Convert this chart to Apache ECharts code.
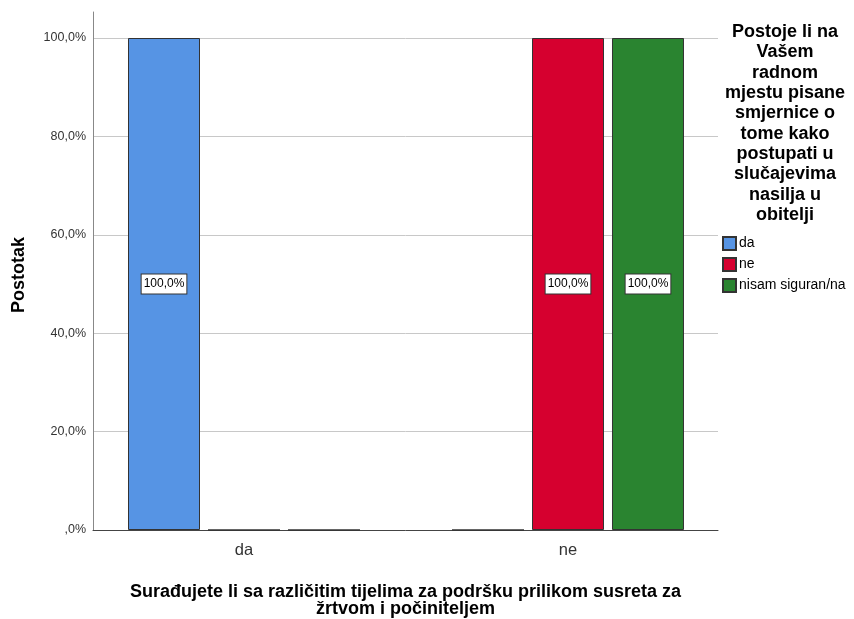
<!DOCTYPE html>
<html><head><meta charset="utf-8">
<script src="https://cdn.jsdelivr.net/npm/echarts@6/dist/echarts.min.js"></script>
<style>html,body{margin:0;padding:0;background:#fff}#c{width:854px;height:619px}</style>
</head><body><div id="c"></div>
<script>
const categories = ['da', 'ne'];
const seriesNames = ['da', 'ne', 'nisam siguran/na'];
const valuesDa = [100, 0];
const valuesNe = [0, 100];
const valuesNisam = [0, 100];
const yTicks = [0, 20, 40, 60, 80, 100];
const colors = ['#5694E4', '#D6002F', '#2A8430'];
const legendTitle = 'Postoje li na\nVašem\nradnom\nmjestu pisane\nsmjernice o\ntome kako\npostupati u\nslučajevima\nnasilja u\nobitelji';
const xTitle = 'Surađujete li sa različitim tijelima za podršku prilikom susreta za\nžrtvom i počiniteljem';
const yTitle = 'Postotak';

const FONT = "Arial, 'Liberation Sans', sans-serif";
const fmt = v => v === 0 ? ',0%' : v.toFixed(1).replace('.', ',') + '%';
const allValues = [valuesDa, valuesNe, valuesNisam];

const chart = echarts.init(document.getElementById('c'));
chart.setOption({
  backgroundColor: '#fff',
  animation: false,
  title: {
    text: legendTitle,
    left: 780, top: 17, textAlign: 'center',
    textStyle: { fontFamily: FONT, fontWeight: 'bold', fontSize: 18, lineHeight: 20.3, color: '#000' }
  },
  legend: {
    orient: 'vertical', left: 717, top: 231,
    itemWidth: 13, itemHeight: 13, itemGap: 6,
    icon: 'rect',
    textStyle: { fontFamily: FONT, fontSize: 14, lineHeight: 13, color: '#000', padding: [0, 0, 0, -2] },
    data: seriesNames
  },
  grid: [
    { left: 93, right: 136, top: 38, bottom: 89, outerBoundsMode: 'none' },
    { left: 93, right: 136, top: 12, bottom: 89, outerBoundsMode: 'none' },
    { left: 82, right: 124, top: 38, bottom: 89, outerBoundsMode: 'none' }
  ],
  xAxis: [
    { gridIndex: 0, type: 'value', min: 0, max: 1, axisLabel: { show: false }, axisTick: { show: false }, splitLine: { show: false },
      axisLine: { show: true, lineStyle: { color: '#444', width: 1 } },
      name: xTitle, nameLocation: 'middle', nameGap: 54,
      nameTextStyle: { fontFamily: FONT, fontWeight: 'bold', fontSize: 18, lineHeight: 17, color: '#000' } },
    { gridIndex: 1, type: 'value', show: false },
    { gridIndex: 2, type: 'category', data: categories, axisLine: { show: false }, axisTick: { show: false },
      axisLabel: { fontFamily: FONT, fontSize: 16.5, color: '#333', margin: 12 } }
  ],
  yAxis: [
    { gridIndex: 0, type: 'value', min: 0, max: 100, interval: 20,
      axisLine: { show: false }, axisTick: { show: false },
      axisLabel: { formatter: fmt, fontFamily: FONT, fontSize: 12.5, color: '#333', margin: 7, padding: [5, 0, 0, 0] },
      splitLine: { show: true, lineStyle: { color: '#c8c8c8', width: 1 } },
      name: yTitle, nameLocation: 'middle', nameGap: 65, nameRotate: 90,
      nameTextStyle: { fontFamily: FONT, fontWeight: 'bold', fontSize: 18, color: '#000', padding: [0, 0, 0, 18] } },
    { gridIndex: 1, type: 'value', min: 0, max: 100, axisLabel: { show: false }, axisTick: { show: false }, splitLine: { show: false },
      axisLine: { show: true, lineStyle: { color: '#888', width: 1 } } },
    { gridIndex: 2, type: 'value', min: 0, max: 100, show: false, splitLine: { show: false } }
  ],
  series: seriesNames.map((name, i) => ({
    name, type: 'bar', xAxisIndex: 2, yAxisIndex: 2,
    barWidth: 72, barGap: '11.1%',
    itemStyle: { color: colors[i], borderColor: '#333', borderWidth: 1 },
    label: {
      show: true, position: 'inside', formatter: p => fmt(p.value),
      fontFamily: FONT, fontSize: 12, color: '#000',
      backgroundColor: '#fff', borderColor: '#333', borderWidth: 1, padding: [4, 2, 3, 2]
    },
    data: allValues[i].map(v => ({ value: v, label: { show: v > 0 } }))
  }))
});
</script></body></html>
